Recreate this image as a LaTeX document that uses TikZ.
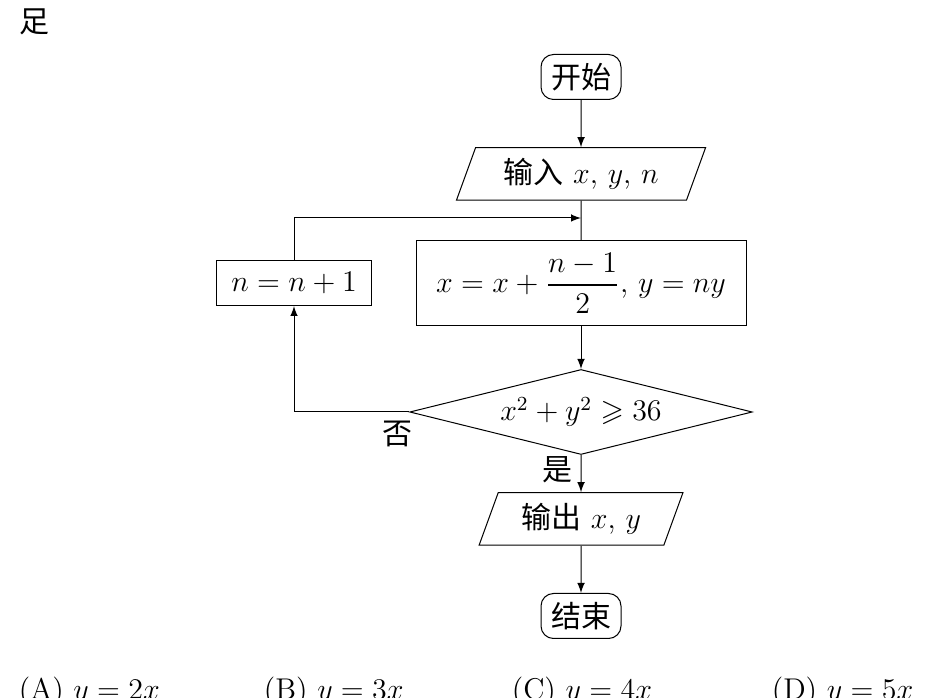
\documentclass[tikz,border=0pt]{standalone}
\usepackage{amsmath,amssymb}
\usepackage{fontspec}
\newfontfamily\cjk{Noto Sans CJK SC}
\usetikzlibrary{shapes.geometric,positioning}
\tikzset{
  startstop/.style={draw,rounded corners=5pt,minimum width=32pt,minimum height=18pt,inner sep=2pt},
  io/.style={draw,trapezium,trapezium left angle=70,trapezium right angle=110,minimum height=21pt,inner sep=2pt},
  proc/.style={draw,minimum height=18pt,inner sep=3pt},
  decide/.style={draw,diamond,aspect=4,minimum width=137pt,minimum height=34pt,inner sep=0pt},
  every node/.style={font=\large},
  line/.style={draw,-latex}
}
\begin{document}
\begin{tikzpicture}[x=0.4pt,y=-0.4pt]
  \useasboundingbox (0,0) rectangle (934,698);
  \node (zu) at (35,22) {\cjk 足};
  \node[startstop] (start) at (581,77) {\cjk 开始};
  \node[io,minimum width=88pt] (input) at (581,174) {{\cjk 输入} $x$, $y$, $n$};
  \node[proc,minimum width=132pt,minimum height=34pt] (update) at (581,283) {$x=x+\dfrac{n-1}{2}$, $y=ny$};
  \node[proc,minimum width=62pt] (incr) at (294,283) {$n=n+1$};
  \node[decide] (test) at (581,412) {$x^2+y^2\geqslant 36$};
  \node[io,minimum width=74pt] (output) at (581,519) {{\cjk 输出} $x$, $y$};
  \node[startstop] (stop) at (581,616) {\cjk 结束};
  \coordinate (merge) at (581,218);
  \coordinate (top) at (294,218);
  \coordinate (bot) at (294,412);
  % main flow
  \path[line] (start) -- (input);
  \draw (input) -- (update);
  \path[line] (update) -- (test);
  \path[line] (test) -- node[left,pos=0.4]{\cjk 是} (output);
  \path[line] (output) -- (stop);
  % loop back
  \draw (test.west) -- node[below,pos=0.1]{\cjk 否} (bot);
  \path[line] (bot) -- (incr);
  \draw (incr) -- (top);
  \path[line] (top) -- (merge);
  % choices
  \node[anchor=west] (ca) at (10,692) {(A) $y=2x$};
  \node[anchor=west] (cb) at (255,692) {(B) $y=3x$};
  \node[anchor=west] (cc) at (503,692) {(C) $y=4x$};
  \node[anchor=west] (cd) at (763,692) {(D) $y=5x$};
\end{tikzpicture}
\end{document}
